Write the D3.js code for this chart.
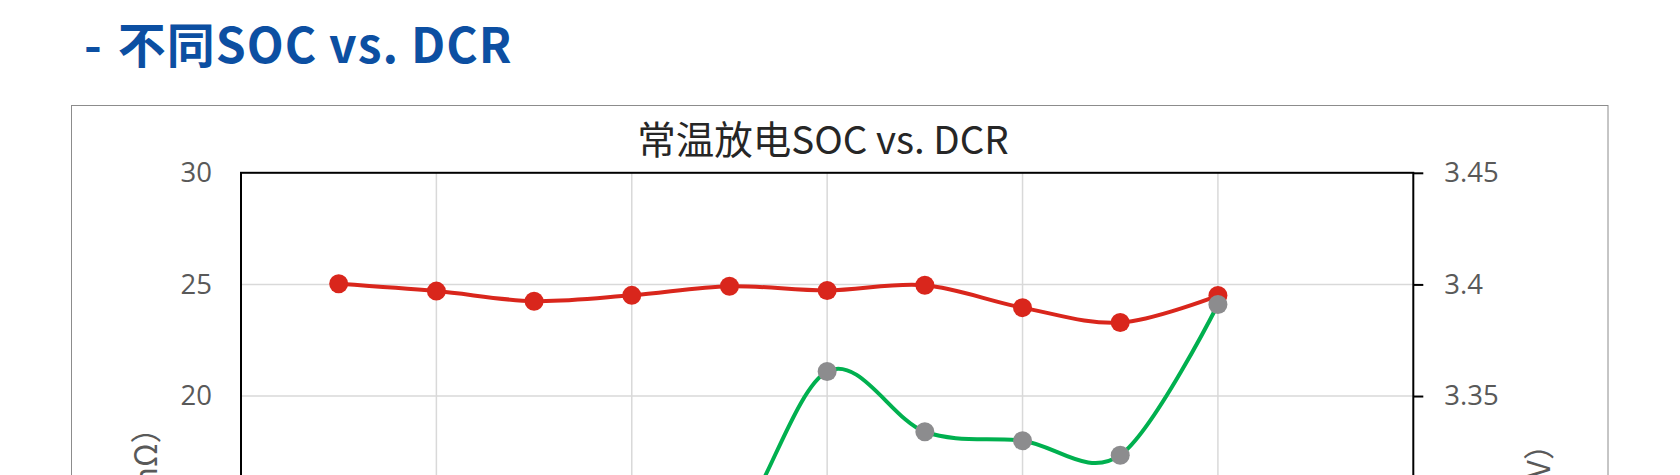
<!DOCTYPE html>
<html>
<head>
<meta charset="utf-8">
<script src="https://cdn.jsdelivr.net/npm/d3@7"></script>
<style>
  html, body { margin: 0; padding: 0; background: #fff; overflow: hidden; }
  svg { display: block; }
</style>
</head>
<body>
<div id="chart"></div>
<script>
// ---- data ----
const soc = [10, 20, 30, 40, 50, 60, 70, 80, 90, 100];
const dcr = [25.03, 24.70, 24.25, 24.51, 24.92, 24.73, 24.96, 23.96, 23.29, 24.50];
const voltage = [3.19, 3.24, 3.27, 3.28, 3.288, 3.361, 3.334, 3.330, 3.3235, 3.391];
const dcrTicks = [0, 5, 10, 15, 20, 25, 30];
const voltTicks = [3.15, 3.2, 3.25, 3.3, 3.35, 3.4, 3.45];
const socTicks = [0, 20, 40, 60, 80, 100, 120];
const headingDash = "-";
const headingText = "不同SOC vs. DCR";
const chartTitle = "常温放电SOC vs. DCR";
const leftTitle = "DCR（mΩ）";
const rightTitle = "电压（V）";

(function () {
const W = 1680, H = 900;
const svg = d3.select("#chart").append("svg").attr("width", W).attr("height", H);

const pL = 241, pR = 1413.3, pT = 172.8, pB = 842.5;
const x = d3.scaleLinear().domain([0, 120]).range([pL, pR]);
const yL = d3.scaleLinear().domain([0, 30]).range([pB, pT]);
const yR = d3.scaleLinear().domain([3.15, 3.45]).range([pB, pT]);

// heading
const head = svg.append("text")
  .attr("x", 84).attr("y", 63)
  .attr("font-family", "'Noto Sans CJK SC', 'Noto Sans', sans-serif")
  .attr("font-weight", 700).attr("font-size", 48)
  .attr("fill", "#0c4fa2");
head.append("tspan").text(headingDash);
head.append("tspan").attr("dx", 16).attr("letter-spacing", 1.0).text(headingText);

// outer chart frame
svg.append("rect")
  .attr("x", 71.5).attr("y", 105.5).attr("width", 1536.5).attr("height", 790)
  .attr("fill", "#fff").attr("stroke", "#8c8c8c").attr("stroke-width", 1);

// chart title
svg.append("text")
  .attr("x", 823).attr("y", 153.5).attr("text-anchor", "middle")
  .attr("font-family", "'Noto Sans CJK SC', sans-serif")
  .attr("font-size", 38.5).attr("fill", "#262626")
  .text(chartTitle);

// gridlines
const grid = svg.append("g").attr("stroke", "#d9d9d9").attr("stroke-width", 1.5);
grid.selectAll(".hg").data(dcrTicks.filter(d => d > 0 && d < 30)).join("line")
  .attr("x1", pL).attr("x2", pR)
  .attr("y1", d => yL(d)).attr("y2", d => yL(d));
grid.selectAll(".vg").data(socTicks.filter(d => d > 0 && d < 120)).join("line")
  .attr("y1", pT).attr("y2", pB)
  .attr("x1", d => x(d)).attr("x2", d => x(d));

// axes
const tickFont = g => g.selectAll("text")
  .attr("font-family", "'Open Sans', sans-serif").attr("font-size", 27.5).attr("fill", "#595959");

const gL = svg.append("g").attr("transform", `translate(${pL},0)`)
  .call(d3.axisLeft(yL).tickValues(dcrTicks).tickSize(0).tickPadding(29).tickFormat(d3.format("d")));
gL.select(".domain").remove();
gL.call(tickFont);

const gR = svg.append("g").attr("transform", `translate(${pR},0)`)
  .call(d3.axisRight(yR).tickValues(voltTicks).tickSize(10).tickPadding(21)
    .tickFormat(d => String(+d.toFixed(2))));
gR.select(".domain").remove();
gR.selectAll("line").attr("stroke", "#000").attr("stroke-width", 2);
gR.call(tickFont);

const gX = svg.append("g").attr("transform", `translate(0,${pB})`)
  .call(d3.axisBottom(x).tickValues(socTicks).tickSize(0).tickPadding(14));
gX.select(".domain").remove();
gX.call(tickFont);

// plot border
svg.append("rect")
  .attr("x", pL).attr("y", pT).attr("width", pR - pL).attr("height", pB - pT)
  .attr("fill", "none").attr("stroke", "#000").attr("stroke-width", 2);

// axis titles
svg.append("text")
  .attr("transform", `translate(143,500) rotate(-90)`)
  .attr("text-anchor", "middle").attr("dominant-baseline", "central")
  .attr("font-family", "'Noto Sans CJK SC', sans-serif").attr("font-size", 31).attr("fill", "#595959")
  .text(leftTitle);
svg.append("text")
  .attr("transform", `translate(1536,500) rotate(-90)`)
  .attr("text-anchor", "middle").attr("dominant-baseline", "central")
  .attr("font-family", "'Noto Sans CJK SC', sans-serif").attr("font-size", 31).attr("fill", "#595959")
  .text(rightTitle);

// series
const curve = d3.curveCardinal.tension(0);
const dcrPts = soc.map((s, i) => [x(s), yL(dcr[i])]);
const vPts = soc.map((s, i) => [x(s), yR(voltage[i])]);

svg.append("path").attr("d", d3.line().curve(curve)(dcrPts))
  .attr("fill", "none").attr("stroke", "#d9261c").attr("stroke-width", 4);
svg.append("g").selectAll("circle").data(dcrPts).join("circle")
  .attr("cx", d => d[0]).attr("cy", d => d[1]).attr("r", 9.5).attr("fill", "#d9261c");

svg.append("path").attr("d", d3.line().curve(curve)(vPts))
  .attr("fill", "none").attr("stroke", "#00b04f").attr("stroke-width", 4);
svg.append("g").selectAll("circle").data(vPts).join("circle")
  .attr("cx", d => d[0]).attr("cy", d => d[1]).attr("r", 9.5).attr("fill", "#8c8c8e");
})();
</script>
</body>
</html>
